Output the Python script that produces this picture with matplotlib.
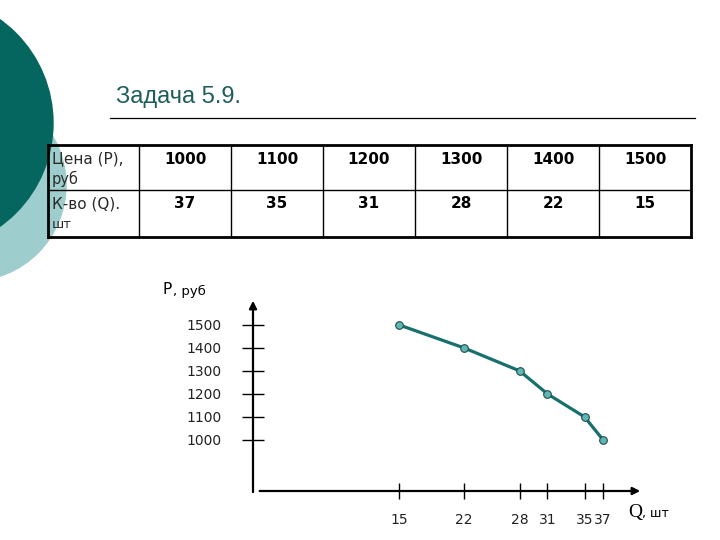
import matplotlib.pyplot as plt
from matplotlib.patches import Circle

# table / chart data
prices = [1000, 1100, 1200, 1300, 1400, 1500]
quantity = [37, 35, 31, 28, 22, 15]
row_names = [("Цена (Р),", "руб"), ("К-во (Q).", "шт")]
title = "Задача 5.9."

dark_teal = "#04665f"
light_teal = "#9dcdcd"
line_col = "#17706c"

fig = plt.figure(figsize=(7.2, 5.4), dpi=100)

# background layer in pixel coordinates (y grows downward)
bg = fig.add_axes([0, 0, 1, 1])
bg.set_xlim(0, 720)
bg.set_ylim(540, 0)
bg.axis("off")

bg.add_patch(Circle((-30, 185), 96, color=light_teal, zorder=0))
bg.add_patch(Circle((-74, 123), 127, color=dark_teal, zorder=1))

bg.text(116, 97, title, fontsize=17, color="#1d5e5c", family="Liberation Sans",
        va="center", ha="left")
bg.plot([110, 695], [118, 118], color="black", lw=0.9)

# table
tx0, tx1 = 48, 139
col_w = 92
row_top = [145, 190]
right = tx1 + col_w * len(prices)
for y in [145, 190, 237]:
    lw = 2 if y != 190 else 1
    bg.plot([tx0, right], [y, y], color="black", lw=lw, zorder=3)
bg.plot([tx0, tx0], [145, 237], color="black", lw=2, zorder=3)
bg.plot([right, right], [145, 237], color="black", lw=2, zorder=3)
for i in range(len(prices)):
    x = tx1 + col_w * i
    bg.plot([x, x], [145, 237], color="black", lw=1, zorder=3)

for r, (a, b) in enumerate(row_names):
    y = row_top[r]
    bg.text(tx0 + 4, y + 14, a, fontsize=11, color="#2a2a2a", va="center", ha="left", zorder=4)
    bg.text(tx0 + 4, y + 34, b, fontsize=10.5 if r == 0 else 9.5, color="#2a2a2a",
            va="center", ha="left", zorder=4)
    vals = prices if r == 0 else quantity
    for i, v in enumerate(vals):
        bg.text(tx1 + col_w * (i + 0.5), y + 14, str(v), fontsize=11, weight="bold",
                va="center", ha="center", zorder=4)

# axis captions
bg.text(163, 290, "P", fontsize=11, va="center", ha="left")
bg.text(173, 291, ", руб", fontsize=9.5, va="center", ha="left")
bg.text(628, 512, "Q", fontsize=14, family="Liberation Serif", va="center", ha="left")
bg.text(642, 514, ", шт", fontsize=9, va="center", ha="left")

# chart
ax = fig.add_axes([253 / 720, 49 / 540, 390 / 720, 193 / 540])
ax.patch.set_alpha(0)
for s in ax.spines.values():
    s.set_visible(False)
ax.set_xlim(-0.75, 41.3)
ax.set_ylim(778, 1617)

ax.set_yticks(prices)
ax.set_yticklabels([str(p) for p in prices])
ax.set_xticks(sorted(quantity))
ax.set_xticklabels([str(q) for q in sorted(quantity)])
ax.tick_params(axis="y", direction="inout", length=16.5, width=1, pad=14.5,
               labelsize=10, colors="black", labelcolor="#222222")
ax.tick_params(axis="x", direction="inout", length=12, width=1, pad=10,
               labelsize=10, colors="black", labelcolor="#222222")

ax.annotate("", xy=(1, 0), xytext=(0.01, 0), xycoords="axes fraction",
            arrowprops=dict(arrowstyle="-|>", color="black", lw=1.6, mutation_scale=11))
ax.annotate("", xy=(0, 1), xytext=(0, -0.02), xycoords="axes fraction",
            arrowprops=dict(arrowstyle="-|>", color="black", lw=1.6, mutation_scale=11))

ax.plot(quantity, prices, color=line_col, lw=2.3, marker="o", ms=5.5,
        mfc="#5fb6b3", mec="#1f4f4d", mew=0.8, zorder=5)

fig.savefig("out.png", dpi=100)
